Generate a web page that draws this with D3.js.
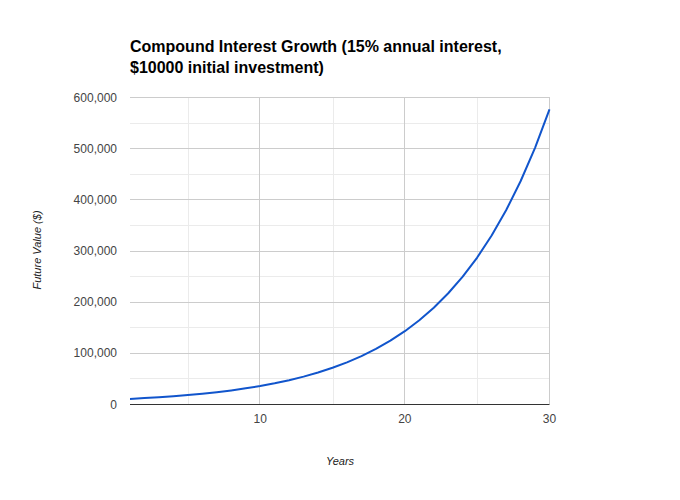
<!DOCTYPE html>
<html><head><meta charset="utf-8">
<script src="https://cdn.jsdelivr.net/npm/d3@7/dist/d3.min.js"></script>
<style>body{margin:0;background:#fff;} svg{display:block;font-family:Arial,"Liberation Sans",sans-serif;}</style>
</head><body>
<svg id="c" width="680" height="500"></svg>
<script>
const titleLines = ["Compound Interest Growth (15% annual interest,", "$10000 initial investment)"];
const years = [1,2,3,4,5,6,7,8,9,10,11,12,13,14,15,16,17,18,19,20,21,22,23,24,25,26,27,28,29,30];
const values = [10000,11500,13225,15209,17490,20114,23131,26600,30590,35179,40456,46524,53503,61528,70757,81371,93576,107613,123755,142318,163665,188215,216447,248915,286252,329190,378568,435353,500656,575755];
const xTicks = [10,20,30];
const xMinor = [5,15,25];
const yTicks = [0,100000,200000,300000,400000,500000,600000];
const yMinor = [50000,150000,250000,350000,450000,550000];
const xTitle = "Years";
const yTitle = "Future Value ($)";

const svg = d3.select("#c");
const L=130,R=549.5,T=97,B=404;
const x = d3.scaleLinear().domain([1,30]).range([L,R]);
const y = d3.scaleLinear().domain([0,600000]).range([B,T]);

const g = svg.append("g");
g.selectAll(".ym").data(yMinor).join("line").attr("x1",L).attr("x2",R).attr("y1",d=>Math.round(y(d))+0.5).attr("y2",d=>Math.round(y(d))+0.5).attr("stroke","#ebebeb");
g.selectAll(".xm").data(xMinor).join("line").attr("y1",T).attr("y2",B).attr("x1",d=>Math.round(x(d))+0.5).attr("x2",d=>Math.round(x(d))+0.5).attr("stroke","#ebebeb");
g.selectAll(".yM").data(yTicks.filter(d=>d>0)).join("line").attr("x1",L).attr("x2",R).attr("y1",d=>Math.round(y(d))+0.5).attr("y2",d=>Math.round(y(d))+0.5).attr("stroke","#cccccc");
g.selectAll(".xM").data(xTicks).join("line").attr("y1",T).attr("y2",B).attr("x1",d=>Math.round(x(d))-0.5).attr("x2",d=>Math.round(x(d))-0.5).attr("stroke","#cccccc");

const fmt = d3.format(",");
svg.selectAll(".yl").data(yTicks).join("text").attr("x",117).attr("y",d=>y(d)+4.5).attr("text-anchor","end").attr("font-size",12).attr("fill","#444").text(d=>fmt(d));
svg.selectAll(".xl").data(xTicks).join("text").attr("x",d=>x(d)).attr("y",423).attr("text-anchor","middle").attr("font-size",12).attr("fill","#444").text(d=>d);

const line = d3.line().x((d,i)=>x(years[i])).y(d=>y(d)).curve(d3.curveLinear);
svg.append("path").datum(values).attr("d",line).attr("fill","none").attr("stroke","#1155cc").attr("stroke-width",2).attr("stroke-linejoin","round");

svg.append("line").attr("x1",L).attr("x2",R).attr("y1",B+0.5).attr("y2",B+0.5).attr("stroke","#333").attr("stroke-width",1.2);

svg.selectAll(".t").data(titleLines).join("text").attr("x",130).attr("y",(d,i)=>52+i*21).attr("font-size",16).attr("font-weight","bold").attr("fill","#000").text(d=>d);

svg.append("text").attr("x",340).attr("y",465).attr("text-anchor","middle").attr("font-size",11).attr("font-style","italic").attr("fill","#222").text(xTitle);
svg.append("text").attr("transform","translate(41,250) rotate(-90)").attr("text-anchor","middle").attr("font-size",11).attr("font-style","italic").attr("fill","#222").text(yTitle);
</script>
</body></html>
